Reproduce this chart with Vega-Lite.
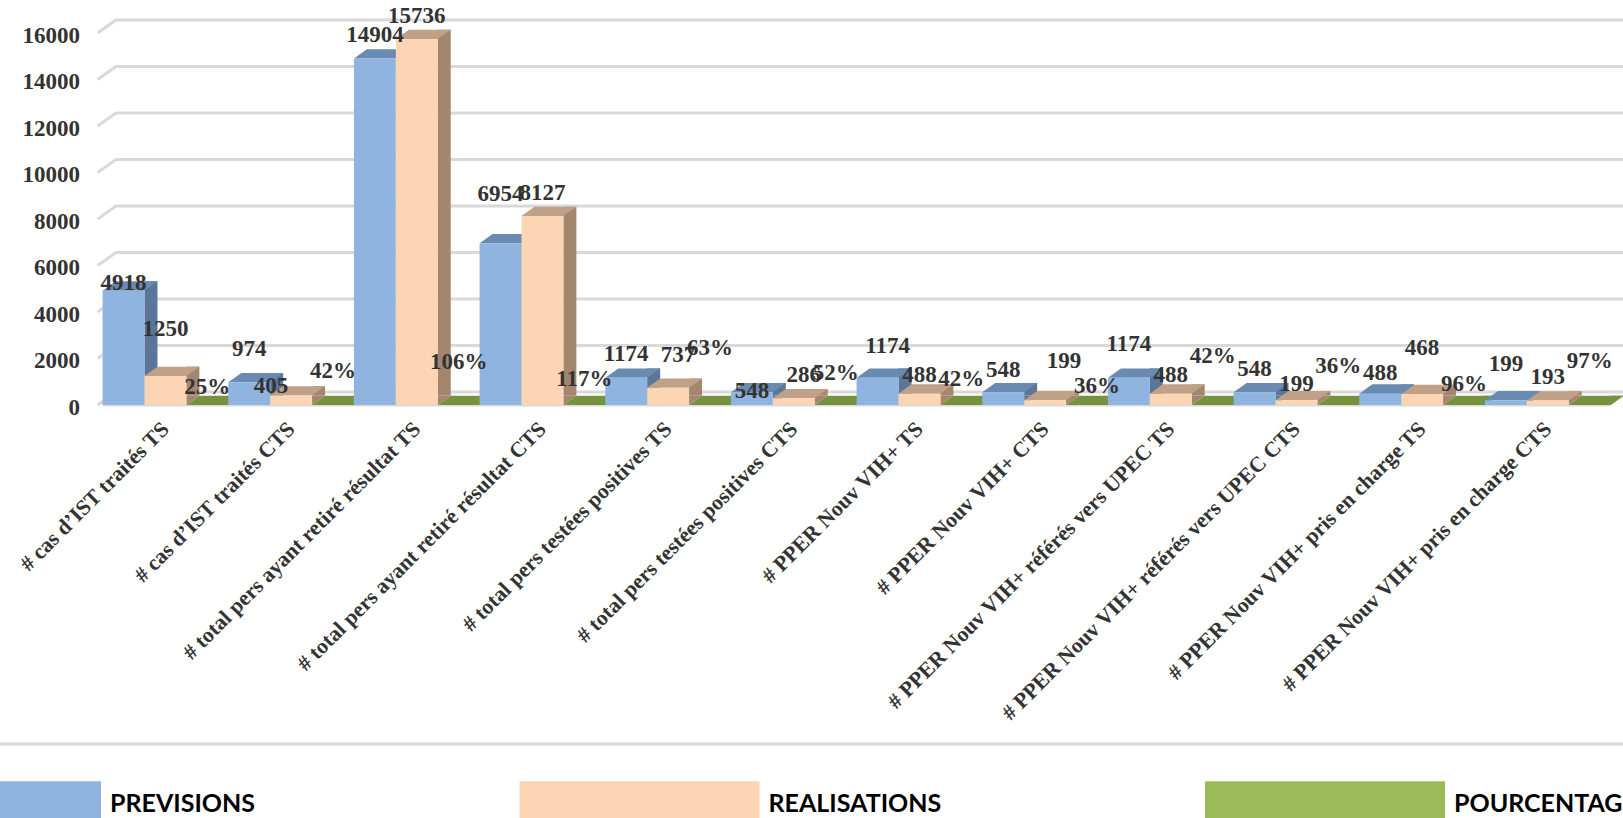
{
"$schema":"https://vega.github.io/schema/vega-lite/v6.json",
"autosize":{"type":"none"},
"padding":{"left":102.6,"top":33,"right":12.4,"bottom":413},
"width":1508,"height":372,
"background":"white",
"view":{"stroke":null},
"datasets":{
"ticks":[{"tick":0},{"tick":2000},{"tick":4000},{"tick":6000},{"tick":8000},{"tick":10000},{"tick":12000},{"tick":14000},{"tick":16000}],
"rows":[
{"category":"# cas d’IST traités TS","series":"PREVISIONS","value":4918,"label":"4918","labelAt":5247},
{"category":"# cas d’IST traités TS","series":"REALISATIONS","value":1250,"label":"1250","labelAt":3269},
{"category":"# cas d’IST traités TS","series":"POURCENTAGE","value":0.25,"label":"25%","labelAt":785},
{"category":"# cas d’IST traités CTS","series":"PREVISIONS","value":974,"label":"974","labelAt":2401},
{"category":"# cas d’IST traités CTS","series":"REALISATIONS","value":405,"label":"405","labelAt":817},
{"category":"# cas d’IST traités CTS","series":"POURCENTAGE","value":0.42,"label":"42%","labelAt":1462},
{"category":"# total pers ayant retiré résultat TS","series":"PREVISIONS","value":14904,"label":"14904","labelAt":15914},
{"category":"# total pers ayant retiré résultat TS","series":"REALISATIONS","value":15736,"label":"15736","labelAt":16731},
{"category":"# total pers ayant retiré résultat TS","series":"POURCENTAGE","value":1.06,"label":"106%","labelAt":1849},
{"category":"# total pers ayant retiré résultat CTS","series":"PREVISIONS","value":6954,"label":"6954","labelAt":9075},
{"category":"# total pers ayant retiré résultat CTS","series":"REALISATIONS","value":8127,"label":"8127","labelAt":9118},
{"category":"# total pers ayant retiré résultat CTS","series":"POURCENTAGE","value":1.17,"label":"117%","labelAt":1118},
{"category":"# total pers testées positives TS","series":"PREVISIONS","value":1174,"label":"1174","labelAt":2194},
{"category":"# total pers testées positives TS","series":"REALISATIONS","value":737,"label":"737","labelAt":2150},
{"category":"# total pers testées positives TS","series":"POURCENTAGE","value":0.63,"label":"63%","labelAt":2452},
{"category":"# total pers testées positives CTS","series":"PREVISIONS","value":548,"label":"548","labelAt":602},
{"category":"# total pers testées positives CTS","series":"REALISATIONS","value":286,"label":"286","labelAt":1290},
{"category":"# total pers testées positives CTS","series":"POURCENTAGE","value":0.52,"label":"52%","labelAt":1394},
{"category":"# PPER Nouv VIH+ TS","series":"PREVISIONS","value":1174,"label":"1174","labelAt":2538},
{"category":"# PPER Nouv VIH+ TS","series":"REALISATIONS","value":488,"label":"488","labelAt":1290},
{"category":"# PPER Nouv VIH+ TS","series":"POURCENTAGE","value":0.42,"label":"42%","labelAt":1118},
{"category":"# PPER Nouv VIH+ CTS","series":"PREVISIONS","value":548,"label":"548","labelAt":1484},
{"category":"# PPER Nouv VIH+ CTS","series":"REALISATIONS","value":199,"label":"199","labelAt":1892},
{"category":"# PPER Nouv VIH+ CTS","series":"POURCENTAGE","value":0.36,"label":"36%","labelAt":817},
{"category":"# PPER Nouv VIH+ référés vers UPEC TS","series":"PREVISIONS","value":1174,"label":"1174","labelAt":2624},
{"category":"# PPER Nouv VIH+ référés vers UPEC TS","series":"REALISATIONS","value":488,"label":"488","labelAt":1290},
{"category":"# PPER Nouv VIH+ référés vers UPEC TS","series":"POURCENTAGE","value":0.42,"label":"42%","labelAt":2108},
{"category":"# PPER Nouv VIH+ référés vers UPEC CTS","series":"PREVISIONS","value":548,"label":"548","labelAt":1548},
{"category":"# PPER Nouv VIH+ référés vers UPEC CTS","series":"REALISATIONS","value":199,"label":"199","labelAt":903},
{"category":"# PPER Nouv VIH+ référés vers UPEC CTS","series":"POURCENTAGE","value":0.36,"label":"36%","labelAt":1677},
{"category":"# PPER Nouv VIH+ pris en charge TS","series":"PREVISIONS","value":488,"label":"488","labelAt":1376},
{"category":"# PPER Nouv VIH+ pris en charge TS","series":"REALISATIONS","value":468,"label":"468","labelAt":2452},
{"category":"# PPER Nouv VIH+ pris en charge TS","series":"POURCENTAGE","value":0.96,"label":"96%","labelAt":903},
{"category":"# PPER Nouv VIH+ pris en charge CTS","series":"PREVISIONS","value":199,"label":"199","labelAt":1763},
{"category":"# PPER Nouv VIH+ pris en charge CTS","series":"REALISATIONS","value":193,"label":"193","labelAt":1204},
{"category":"# PPER Nouv VIH+ pris en charge CTS","series":"POURCENTAGE","value":0.97,"label":"97%","labelAt":1892}
]},
"resolve":{"scale":{"color":"independent"}},
"layer":[
{"data":{"name":"ticks"},
 "mark":{"type":"point","shape":"M-759,0L-740.6,-13L775,-13","filled":false,"stroke":"#d9d9d9","strokeWidth":3,"size":4,"opacity":1},
 "encoding":{"y":{"field":"tick","type":"quantitative","scale":{"domain":[0,16000],"nice":false},"axis":{"values":[0,2000,4000,6000,8000,10000,12000,14000,16000],"format":"d","grid":false,"domain":false,"ticks":false,"title":null,"labelPadding":23,"labelOffset":2,"labelFont":"Liberation Serif","labelFontWeight":"bold","labelFontSize":23,"labelColor":"#333333"}}}},
{"data":{"values":[{"tick":-14580}]},
 "mark":{"type":"point","shape":"M-900,0L900,0","filled":false,"stroke":"#d9d9d9","strokeWidth":3,"size":4,"opacity":1},
 "encoding":{"y":{"field":"tick","type":"quantitative","scale":{"domain":[0,16000],"nice":false}}}},
{"data":{"name":"rows"},
 "transform":[{"filter":"datum.series === 'PREVISIONS'"}],
 "mark":{"type":"rule","strokeWidth":13,"xOffset":-14.45,"yOffset":-9.3,"y2Offset":-9.3,"opacity":1,"color":"#5a7698"},
 "encoding":{
  "x":{"field":"category","type":"nominal","sort":null,"scale":{"paddingInner":0,"paddingOuter":0},"axis":{"title":null,"ticks":false,"domainColor":"#d9d9d9","domainWidth":2,"labelAngle":-45,"labelAlign":"right","labelBaseline":"middle","labelPadding":20,"labelLimit":500,"labelOverlap":false,"labelBound":false,"labelFont":"Liberation Serif","labelFontWeight":"bold","labelFontSize":21.7,"labelColor":"#333333"}},
  "y":{"field":"value","type":"quantitative","scale":{"domain":[0,16000],"nice":false}},
  "y2":{"datum":0}}},
{"data":{"name":"rows"},
 "transform":[{"filter":"datum.series === 'REALISATIONS'"}],
 "mark":{"type":"rule","strokeWidth":13,"xOffset":27.45,"yOffset":-9.3,"y2Offset":-9.3,"opacity":1,"color":"#a4866f"},
 "encoding":{
  "x":{"field":"category","type":"nominal","sort":null},
  "y":{"field":"value","type":"quantitative","scale":{"domain":[0,16000],"nice":false}},
  "y2":{"datum":0}}},
{"data":{"name":"rows"},
 "mark":{"type":"point","shape":"M20.95,0L33.95,-9.3L20.95,-9.3Z","filled":true,"size":4,"opacity":1},
 "encoding":{
  "x":{"field":"category","type":"nominal","sort":null},
  "xOffset":{"field":"series","sort":["PREVISIONS","REALISATIONS","POURCENTAGE"],"scale":{"paddingInner":0,"paddingOuter":0}},
  "y":{"datum":0,"type":"quantitative","scale":{"domain":[0,16000],"nice":false}},
  "color":{"field":"series","scale":{"domain":["PREVISIONS","REALISATIONS","POURCENTAGE"],"range":["#5a7698","#a4866f","#76923c"]},"legend":null}}},
{"data":{"name":"rows"},
 "mark":{"type":"point","shape":"M-20.95,0L20.95,0L33.95,-9.3L-7.95,-9.3Z","filled":true,"size":4,"opacity":1},
 "encoding":{
  "x":{"field":"category","type":"nominal","sort":null},
  "xOffset":{"field":"series","sort":["PREVISIONS","REALISATIONS","POURCENTAGE"]},
  "y":{"field":"value","type":"quantitative","scale":{"domain":[0,16000],"nice":false}},
  "color":{"field":"series","scale":{"domain":["PREVISIONS","REALISATIONS","POURCENTAGE"],"range":["#6a8bb1","#c0a086","#76923c"]},"legend":null}}},
{"data":{"name":"rows"},
 "mark":{"type":"bar"},
 "encoding":{
  "x":{"field":"category","type":"nominal","sort":null},
  "xOffset":{"field":"series","sort":["PREVISIONS","REALISATIONS","POURCENTAGE"]},
  "y":{"field":"value","type":"quantitative","scale":{"domain":[0,16000],"nice":false}},
  "color":{"field":"series","scale":{"domain":["PREVISIONS","REALISATIONS","POURCENTAGE"],"range":["#8fb4df","#fcd5b5","#9bbb59"]},
   "legend":{"title":null,"orient":"none","legendX":-241.6,"legendY":650.5,"direction":"horizontal","columns":3,"padding":0,"columnPadding":263.5,"symbolType":"M-1,-0.187L1,-0.187L1,0.121L-1,0.121Z","symbolSize":57600,"symbolStrokeWidth":0,"labelOffset":9,"labelLimit":1000,"labelFont":"Lato","labelFontWeight":"bold","labelFontSize":25,"labelColor":"#000000"}}}},
{"data":{"name":"rows"},
 "transform":[{"filter":"!(datum.label === '405' || datum.label === '737' || datum.label === '286' || (datum.label === '1174' && datum.category === '# PPER Nouv VIH+ TS') || (datum.category === '# PPER Nouv VIH+ CTS' && (datum.label === '36%' || datum.label === '199')))"}],
 "mark":{"type":"text","font":"Liberation Serif","fontWeight":"bold","fontSize":23,"color":"#333333","baseline":"middle","align":"center"},
 "encoding":{
  "x":{"field":"category","type":"nominal","sort":null},
  "xOffset":{"field":"series","sort":["PREVISIONS","REALISATIONS","POURCENTAGE"]},
  "y":{"field":"labelAt","type":"quantitative","scale":{"domain":[0,16000],"nice":false}},
  "text":{"field":"label"}}},
{"data":{"name":"rows"},
 "transform":[{"filter":"datum.label === '405'"}],
 "mark":{"type":"text","dx":-20,"font":"Liberation Serif","fontWeight":"bold","fontSize":23,"color":"#333333","baseline":"middle","align":"center"},
 "encoding":{
  "x":{"field":"category","type":"nominal","sort":null},
  "xOffset":{"field":"series","sort":["PREVISIONS","REALISATIONS","POURCENTAGE"]},
  "y":{"field":"labelAt","type":"quantitative","scale":{"domain":[0,16000],"nice":false}},
  "text":{"field":"label"}}},
{"data":{"name":"rows"},
 "transform":[{"filter":"datum.label === '737' || datum.label === '286' || (datum.label === '1174' && datum.category === '# PPER Nouv VIH+ TS') || (datum.label === '36%' && datum.category === '# PPER Nouv VIH+ CTS')"}],
 "mark":{"type":"text","dx":10,"font":"Liberation Serif","fontWeight":"bold","fontSize":23,"color":"#333333","baseline":"middle","align":"center"},
 "encoding":{
  "x":{"field":"category","type":"nominal","sort":null},
  "xOffset":{"field":"series","sort":["PREVISIONS","REALISATIONS","POURCENTAGE"]},
  "y":{"field":"labelAt","type":"quantitative","scale":{"domain":[0,16000],"nice":false}},
  "text":{"field":"label"}}},
{"data":{"name":"rows"},
 "transform":[{"filter":"datum.label === '199' && datum.category === '# PPER Nouv VIH+ CTS'"}],
 "mark":{"type":"text","dx":19,"font":"Liberation Serif","fontWeight":"bold","fontSize":23,"color":"#333333","baseline":"middle","align":"center"},
 "encoding":{
  "x":{"field":"category","type":"nominal","sort":null},
  "xOffset":{"field":"series","sort":["PREVISIONS","REALISATIONS","POURCENTAGE"]},
  "y":{"field":"labelAt","type":"quantitative","scale":{"domain":[0,16000],"nice":false}},
  "text":{"field":"label"}}}
]
}
